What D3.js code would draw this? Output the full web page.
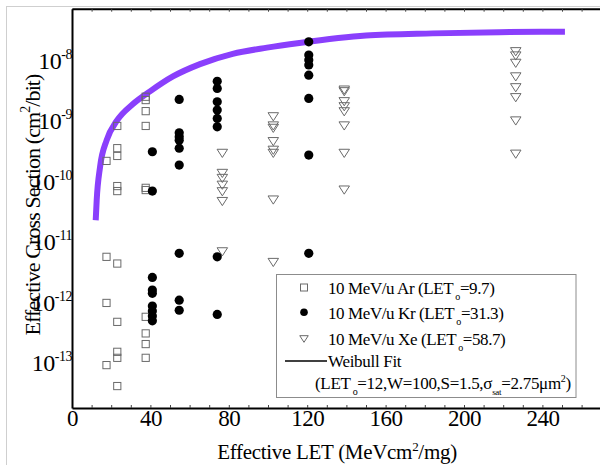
<!DOCTYPE html>
<html>
<head>
<meta charset="utf-8">
<script src="https://cdn.jsdelivr.net/npm/d3@7"></script>
<style>
  body { margin: 0; background: #fff; }
  svg text { font-family: "Liberation Serif", "Times New Roman", Times, "DejaVu Serif", serif !important; fill: #000; }
</style>
</head>
<body>
<svg id="canvas" width="600" height="465"></svg>
<script>
// cross section (cm2/bit) vs effective LET
let arPoints = [
  [17.6, 2.4e-10], [17.6, 6.2e-12], [17.6, 1.07e-12], [17.6, 1.0e-13],
  [23.1, 9.1e-10], [23.1, 3.9e-10], [23.1, 2.9e-10], [23.1, 9.2e-11], [23.1, 7.6e-11],
  [23.1, 4.8e-12], [23.1, 5.2e-13], [23.1, 1.66e-13], [23.1, 1.32e-13], [23.1, 4.5e-14],
  [37.6, 2.77e-9], [37.6, 2.44e-9], [37.6, 1.6e-9], [37.6, 9.1e-10], [37.6, 8.6e-11],
  [37.6, 7.9e-11], [37.6, 6.3e-13], [37.6, 3.35e-13], [37.6, 2.23e-13], [37.6, 1.32e-13]
]
let krPoints = [
  [41.0, 3.4e-10], [41.0, 7.6e-11], [41.0, 2.83e-12], [41.0, 1.75e-12], [41.0, 1.54e-12],
  [41.0, 9.5e-13], [41.0, 7.9e-13], [41.0, 6.5e-13], [41.0, 5.4e-13],
  [54.7, 2.5e-9], [54.7, 7.0e-10], [54.7, 6.0e-10], [54.7, 5.3e-10], [54.7, 3.9e-10],
  [54.7, 2.05e-10], [54.7, 7.1e-12], [54.7, 1.19e-12], [54.7, 8.1e-13],
  [74.1, 5.0e-9], [74.1, 3.8e-9], [74.1, 2.29e-9], [74.1, 1.67e-9], [74.1, 1.21e-9],
  [74.1, 8.8e-10], [74.1, 6.2e-12], [74.1, 6.9e-13],
  [120.8, 2.25e-8], [120.8, 1.36e-8], [120.8, 1.12e-8], [120.8, 9.3e-9], [120.8, 6.3e-9],
  [120.8, 2.6e-9], [120.8, 3.0e-10], [120.8, 7.1e-12]
]
let xePoints = [
  [76.7, 3.2e-10], [76.7, 1.49e-10], [76.7, 1.23e-10], [76.7, 9.5e-11], [76.7, 7.4e-11],
  [76.7, 5.1e-11], [76.7, 7.5e-12],
  [102.7, 1.29e-9], [102.7, 9.1e-10], [102.7, 8.3e-10], [102.7, 5.0e-10], [102.7, 3.6e-10],
  [102.7, 3.2e-10], [102.7, 5.4e-11], [102.7, 5.0e-12],
  [138.9, 3.57e-9], [138.9, 3.35e-9], [138.9, 2.29e-9], [138.9, 1.89e-9], [138.9, 1.56e-9],
  [138.9, 9.1e-10], [138.9, 3.2e-10], [138.9, 7.9e-11],
  [226.4, 1.54e-8], [226.4, 1.31e-8], [226.4, 9.9e-9], [226.4, 5.9e-9], [226.4, 3.9e-9],
  [226.4, 2.67e-9], [226.4, 1.1e-9], [226.4, 3.1e-10]
]
// weibull fit curve, traced
let fitLET = [12.1, 12.6, 14.3, 17.7, 22.8, 31.1, 39.8, 51.5, 65.3, 82, 99.5, 116, 150, 184, 218, 251.5]
let fitSigma = [2.5e-11, 5.4e-11, 1.9e-10, 5.3e-10, 1.1e-9, 2.1e-9, 3.4e-9, 6.0e-9, 9.6e-9,
  1.42e-8, 1.8e-8, 2.15e-8, 2.85e-8, 3.1e-8, 3.25e-8, 3.3e-8]

let xTicks = [0, 40, 80, 120, 160, 200, 240]
let yExponents = [-13, -12, -11, -10, -9, -8]

let serif = '"Liberation Serif", "Times New Roman", serif'
let canvas = d3.select('#canvas').attr('font-family', serif)

let plotLeft = 72, plotRight = 601.2, plotTop = 8.7, plotBottom = 408

let x = d3.scaleLinear().domain([0, 270]).range([plotLeft, plotRight])
let y = d3.scaleLog().domain([1.95e-14, 7.94e-8]).range([plotBottom, plotTop])

// light frame
canvas.append('rect')
  .attr('x', 6.5).attr('y', 6.5)
  .attr('width', 600).attr('height', 470)
  .attr('fill', 'none').attr('stroke', '#cfcfcf')

// axes
let minor = d3.range(0, 271, 10)
let bottomAxis = canvas.append('g')
  .attr('transform', 'translate(0,' + plotBottom + ')')
  .call(d3.axisBottom(x).tickValues(minor).tickSize(-3).tickSizeOuter(0).tickPadding(2)
    .tickFormat((d) => xTicks.includes(d) ? d : ''))
bottomAxis.attr('font-family', serif)
bottomAxis.selectAll('text').style('font-size', '23px').style('letter-spacing', '-0.5px')

canvas.append('g')
  .attr('transform', 'translate(0,' + plotTop + ')')
  .call(d3.axisTop(x).tickValues(minor).tickSize(-3).tickSizeOuter(0).tickFormat(''))

canvas.append('g')
  .attr('transform', 'translate(' + plotLeft + ',0)')
  .call(d3.axisLeft(y).tickValues([]).tickSizeOuter(0))

canvas.selectAll('.domain').attr('stroke', '#000').attr('stroke-width', 2)
canvas.selectAll('.tick line').attr('stroke', '#444').attr('stroke-width', 1)

// y tick labels 10^n
yExponents.forEach((e) => {
  let t = canvas.append('text')
    .attr('x', 72)
    .attr('y', y(Math.pow(10, e)) + 6)
    .attr('text-anchor', 'end')
    .style('font-size', '24px')
    .style('letter-spacing', '-0.5px')
  t.append('tspan').text('10')
  t.append('tspan').attr('dy', -10).style('font-size', '14px').text(e)
})

// axis titles
let xt = canvas.append('text')
  .attr('x', 337).attr('y', 459)
  .attr('text-anchor', 'middle')
  .style('font-size', '21px')
  .style('letter-spacing', '-0.3px')
xt.append('tspan').text('Effective LET (MeVcm')
xt.append('tspan').attr('dy', -8).style('font-size', '13px').text('2')
xt.append('tspan').attr('dy', 8).text('/mg)')

let yt = canvas.append('text')
  .attr('transform', 'translate(40,205) rotate(-90)')
  .attr('text-anchor', 'middle')
  .style('font-size', '22px')
  .style('letter-spacing', '-0.9px')
yt.append('tspan').text('Effective Cross Section (cm')
yt.append('tspan').attr('dy', -10).style('font-size', '14px').text('2')
yt.append('tspan').attr('dy', 10).text('/bit)')

// fit curve
let fitData = fitLET.map((d, i) => [d, fitSigma[i]])
canvas.append('path')
  .datum(fitData)
  .attr('fill', 'none')
  .attr('stroke', '#8a3ffc')
  .attr('stroke-width', 6)
  .attr('d', d3.line().x((d) => x(d[0])).y((d) => y(d[1])).curve(d3.curveMonotoneX))

let grey = '#6a6a6a'
let triangle = (cx, cy, w) => {
  let h = w * 0.78
  return 'M' + (cx - w / 2) + ',' + (cy - h / 2) + 'L' + (cx + w / 2) + ',' + (cy - h / 2) +
    'L' + cx + ',' + (cy + h / 2) + 'Z'
}

canvas.selectAll('.ar')
  .data(arPoints)
  .enter()
  .append('rect')
  .attr('class', 'ar')
  .attr('x', (d) => x(d[0]) - 3.6)
  .attr('y', (d) => y(d[1]) - 3.6)
  .attr('width', 7.2).attr('height', 7.2)
  .attr('fill', 'none').attr('stroke', grey).attr('stroke-width', 1)

canvas.selectAll('.xe')
  .data(xePoints)
  .enter()
  .append('path')
  .attr('class', 'xe')
  .attr('d', (d) => triangle(x(d[0]), y(d[1]), 10.5))
  .attr('fill', 'none').attr('stroke', grey).attr('stroke-width', 1)

canvas.selectAll('.kr')
  .data(krPoints)
  .enter()
  .append('circle')
  .attr('class', 'kr')
  .attr('cx', (d) => x(d[0]))
  .attr('cy', (d) => y(d[1]))
  .attr('r', 4.6)
  .attr('fill', '#000')

// legend
let legend = canvas.append('g')
legend.append('rect')
  .attr('x', 276.5).attr('y', 274.5)
  .attr('width', 299.5).attr('height', 123)
  .attr('fill', '#fff').attr('stroke', '#8c8c8c').attr('stroke-width', 1)

legend.append('rect')
  .attr('x', 300.5).attr('y', 284).attr('width', 7).attr('height', 7)
  .attr('fill', 'none').attr('stroke', grey)
legend.append('circle').attr('cx', 304).attr('cy', 312.3).attr('r', 3.8).attr('fill', '#000')
legend.append('path').attr('d', triangle(304, 339, 8.5))
  .attr('fill', 'none').attr('stroke', grey)
legend.append('line')
  .attr('x1', 285).attr('x2', 327).attr('y1', 361).attr('y2', 361)
  .attr('stroke', '#000').attr('stroke-width', 1.5)

let ionRows = [
  ['10 MeV/u Ar (LET', '=9.7)', 294],
  ['10 MeV/u Kr (LET', '=31.3)', 319],
  ['10 MeV/u Xe (LET', '=58.7)', 345]
]
ionRows.forEach((r) => {
  let t = legend.append('text').attr('x', 328).attr('y', r[2])
    .style('font-size', '17px').style('letter-spacing', '-0.4px')
  t.append('tspan').text(r[0])
  t.append('tspan').attr('dx', 2).attr('dy', 6).style('font-size', '10px').text('o')
  t.append('tspan').attr('dy', -6).text(r[1])
})
legend.append('text').attr('x', 328).attr('y', 367)
  .style('font-size', '17px').style('letter-spacing', '-0.3px')
  .text('Weibull Fit')

let fitText = legend.append('text').attr('x', 315).attr('y', 389)
  .style('font-size', '17px').style('letter-spacing', '-0.3px')
fitText.append('tspan').text('(LET')
fitText.append('tspan').attr('dx', 2).attr('dy', 6).style('font-size', '10px').text('o')
fitText.append('tspan').attr('dy', -6).text('=12,W=100,S=1.5,\u03c3')
fitText.append('tspan').attr('dy', 6).style('font-size', '9px').text('sat')
fitText.append('tspan').attr('dy', -6).text('=2.75\u03bcm')
fitText.append('tspan').attr('dy', -7).style('font-size', '10px').text('2')
fitText.append('tspan').attr('dy', 7).text(')')
</script>
</body>
</html>
